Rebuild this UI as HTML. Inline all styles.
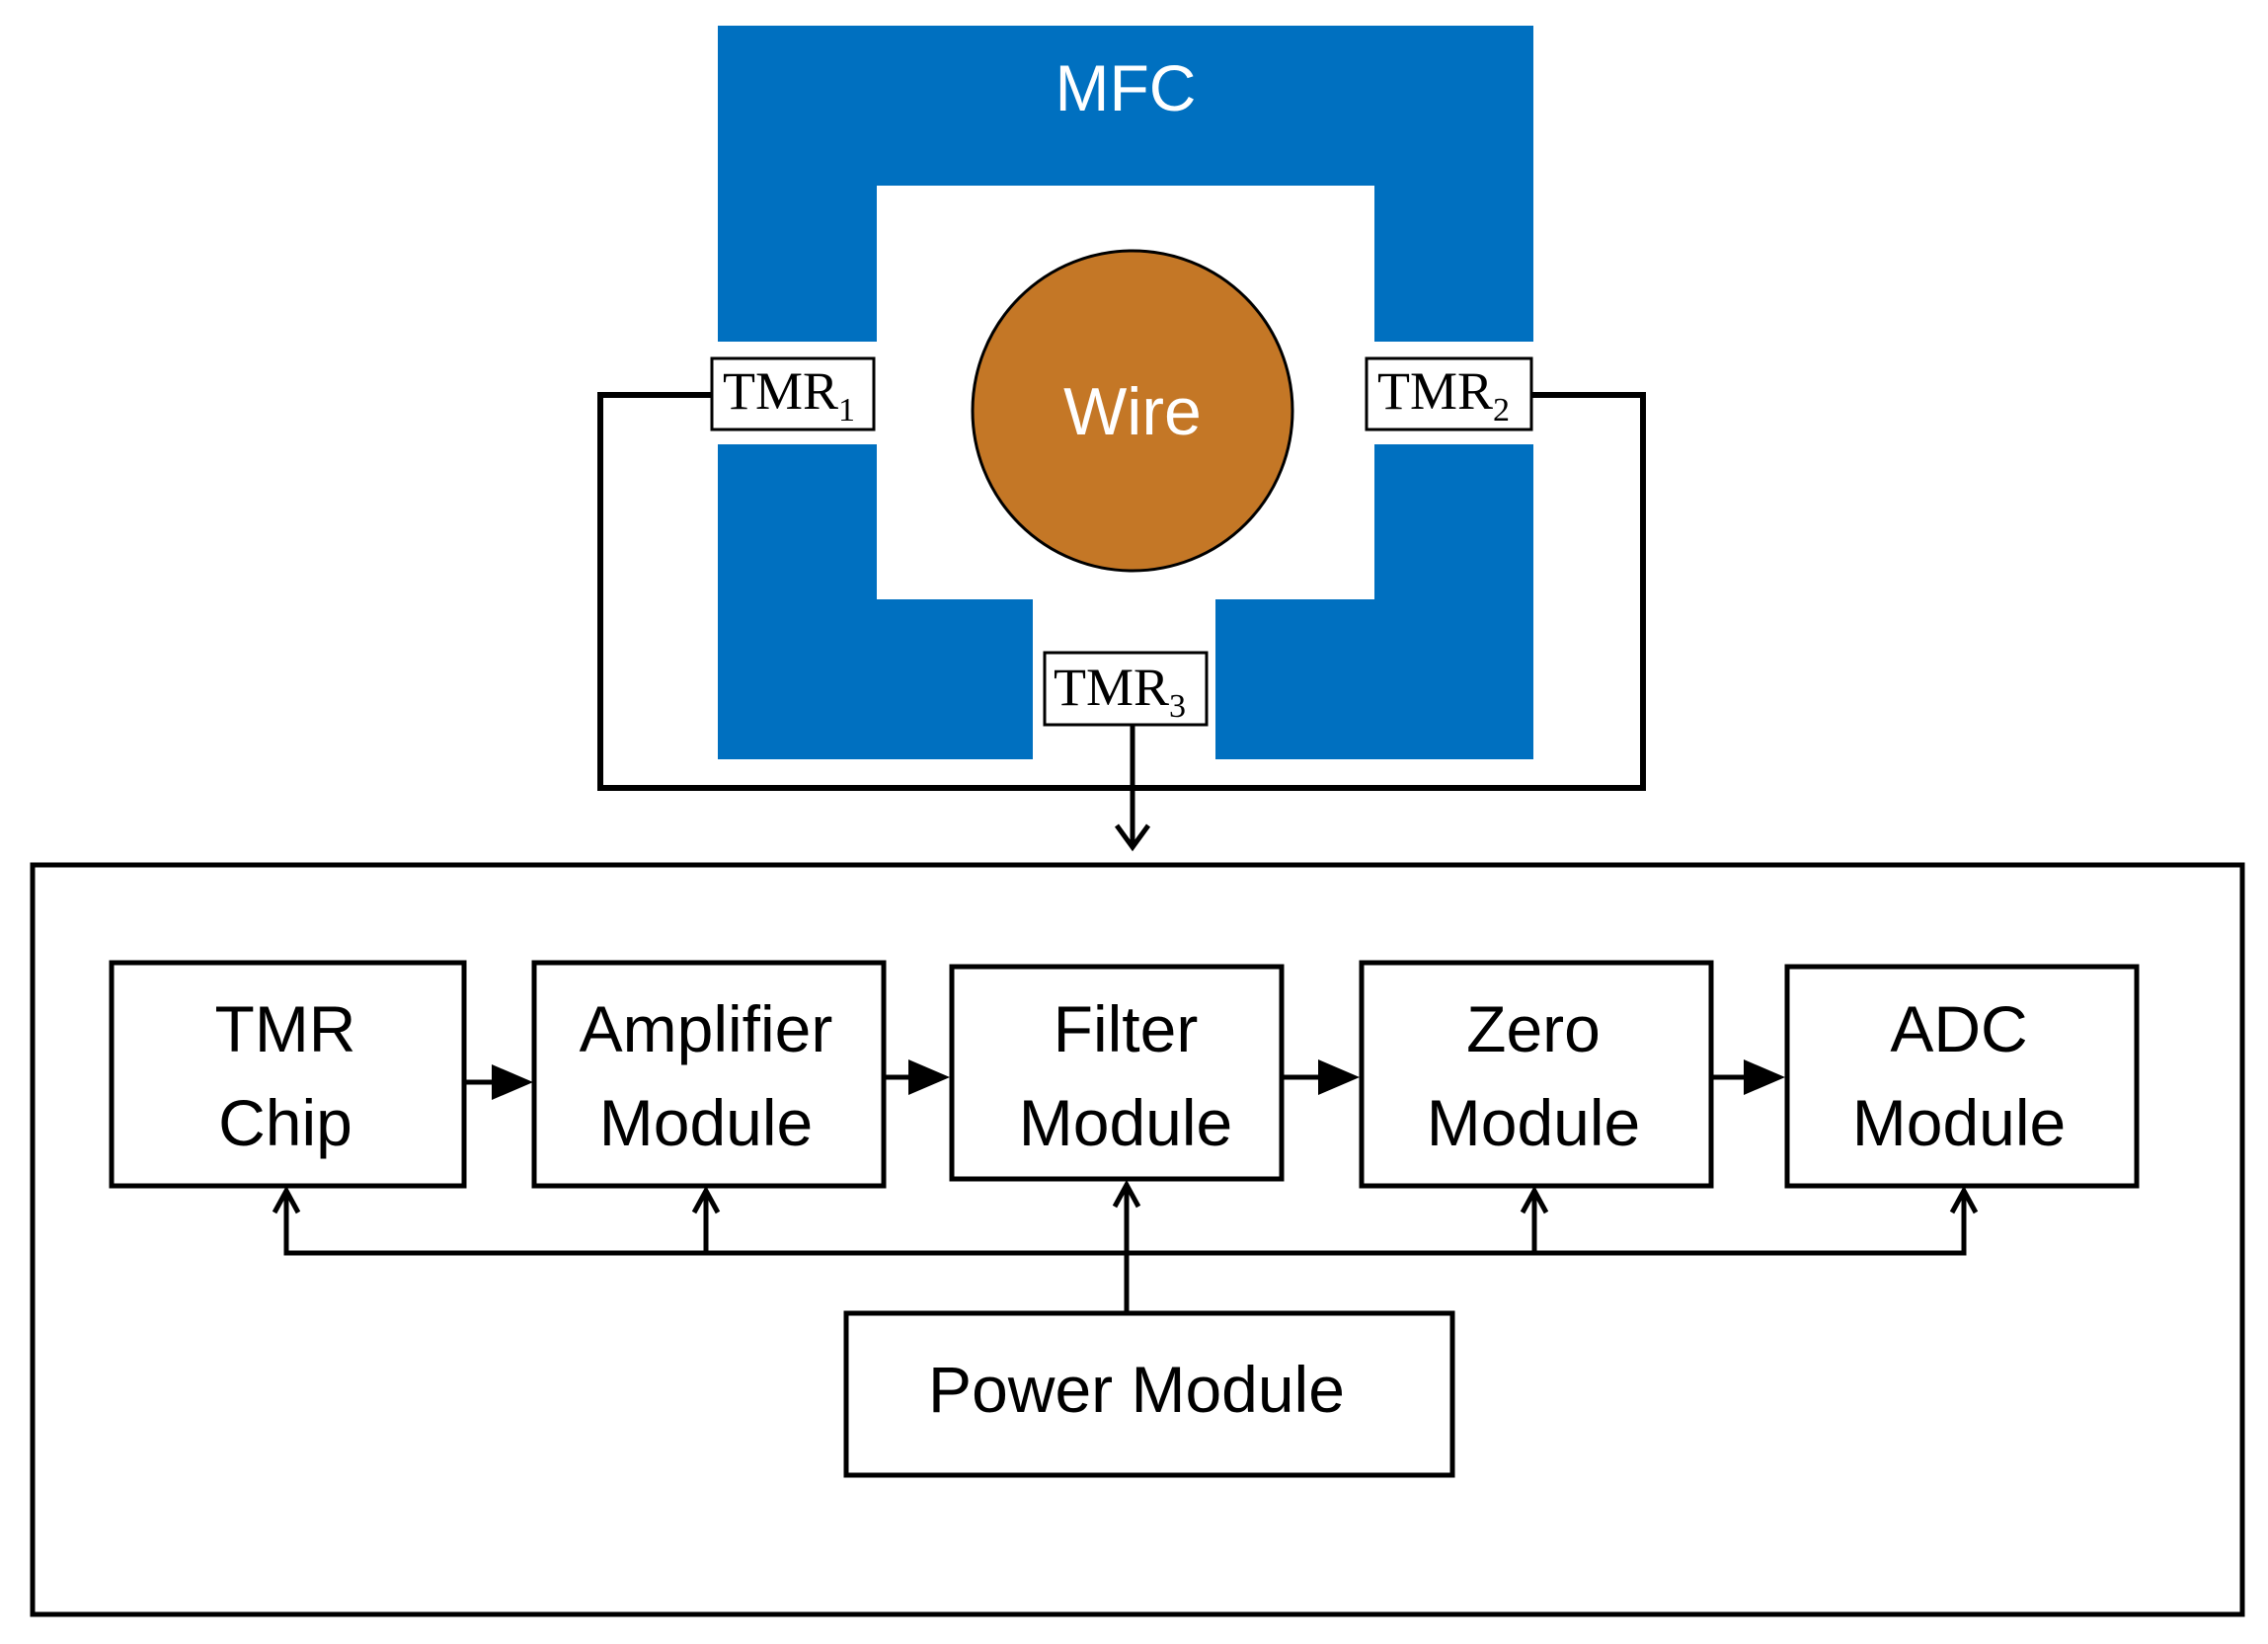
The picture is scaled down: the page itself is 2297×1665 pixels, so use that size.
<!DOCTYPE html>
<html><head><style>
body{margin:0;background:#fff}
svg{display:block}
text{font-family:"Liberation Sans",sans-serif}
.s{font-family:"Liberation Serif",serif}
</style></head><body>
<svg width="2297" height="1665" viewBox="0 0 2297 1665" xmlns="http://www.w3.org/2000/svg">
<!-- MFC -->
<path fill="#0070C0" fill-rule="evenodd" d="M727,26 H1553 V769 H1231 V607 H1392 V188 H888 V607 H1046 V769 H727 Z"/>
<rect x="720" y="346" width="170" height="104" fill="#fff"/>
<rect x="1385" y="346" width="170" height="104" fill="#fff"/>
<text x="1140" y="112" font-size="66" fill="#fff" text-anchor="middle">MFC</text>
<circle cx="1147" cy="416" r="162" fill="#C47726" stroke="#000" stroke-width="3"/>
<text x="1147" y="440" font-size="68" fill="#fff" text-anchor="middle">Wire</text>
<!-- loop -->
<polyline points="721,400 608,400 608,798 1664,798 1664,400 1551,400" fill="none" stroke="#000" stroke-width="6"/>
<line x1="1147" y1="734" x2="1147" y2="856" stroke="#000" stroke-width="5"/>
<polyline points="1131,836 1147,858 1163,836" fill="none" stroke="#000" stroke-width="5"/>
<rect x="721" y="363" width="164" height="72" fill="#fff" stroke="#000" stroke-width="3"/>
<text class="s" x="732" y="414" font-size="54">TMR<tspan font-size="34" dy="12">1</tspan></text>
<rect x="1384" y="363" width="167" height="72" fill="#fff" stroke="#000" stroke-width="3"/>
<text class="s" x="1395" y="414" font-size="54">TMR<tspan font-size="34" dy="12">2</tspan></text>
<rect x="1058" y="661" width="164" height="73" fill="#fff" stroke="#000" stroke-width="3"/>
<text class="s" x="1067" y="714" font-size="54">TMR<tspan font-size="34" dy="12">3</tspan></text>
<!-- outer box -->
<rect x="33" y="876" width="2238" height="759" fill="none" stroke="#000" stroke-width="5"/>
<!-- modules -->
<g fill="#fff" stroke="#000" stroke-width="5">
<rect x="113" y="975" width="357" height="226"/>
<rect x="541" y="975" width="354" height="226"/>
<rect x="964" y="979" width="334" height="215"/>
<rect x="1379" y="975" width="354" height="226"/>
<rect x="1810" y="979" width="354" height="222"/>
<rect x="857" y="1330" width="614" height="164"/>
</g>
<g font-size="66" text-anchor="middle">
<text x="289" y="1065">TMR</text><text x="289" y="1160">Chip</text>
<text x="715" y="1065">Amplifier</text><text x="715" y="1160">Module</text>
<text x="1140" y="1065">Filter</text><text x="1140" y="1160">Module</text>
<text x="1553" y="1065">Zero</text><text x="1553" y="1160">Module</text>
<text x="1984" y="1065">ADC</text><text x="1984" y="1160">Module</text>
<text x="1151" y="1430">Power Module</text>
</g>
<!-- horizontal arrows -->
<g stroke="#000" stroke-width="5">
<line x1="470" y1="1096" x2="500" y2="1096"/>
<line x1="895" y1="1091" x2="925" y2="1091"/>
<line x1="1298" y1="1091" x2="1340" y2="1091"/>
<line x1="1733" y1="1091" x2="1772" y2="1091"/>
</g>
<g fill="#000">
<polygon points="498,1078 540,1096 498,1114"/>
<polygon points="920,1073 962,1091 920,1109"/>
<polygon points="1335,1073 1377,1091 1335,1109"/>
<polygon points="1766,1073 1808,1091 1766,1109"/>
</g>
<g fill="none" stroke="#000" stroke-width="5">
<polyline points="290,1208 290,1269 1989,1269 1989,1208"/>
<line x1="715" y1="1269" x2="715" y2="1208"/>
<line x1="1554" y1="1269" x2="1554" y2="1208"/>
<line x1="1141" y1="1330" x2="1141" y2="1200"/>
<polyline points="278,1228 290,1206 302,1228"/>
<polyline points="703,1228 715,1206 727,1228"/>
<polyline points="1129,1222 1141,1200 1153,1222"/>
<polyline points="1542,1228 1554,1206 1566,1228"/>
<polyline points="1977,1228 1989,1206 2001,1228"/>
</g>
</svg>
</body></html>
